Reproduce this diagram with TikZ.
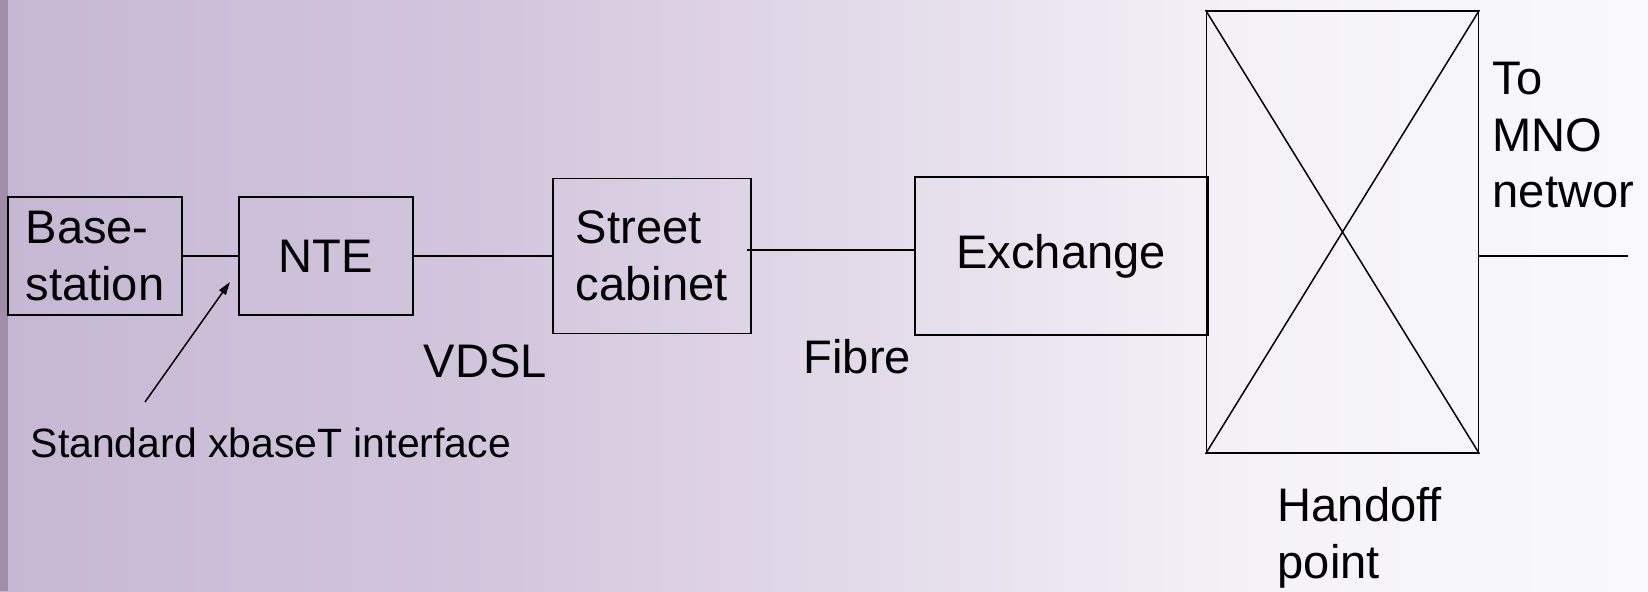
\documentclass[tikz,border=0pt]{standalone}
\usepackage{fontspec}
\setmainfont{Liberation Sans}
\usetikzlibrary{arrows.meta,positioning}

\definecolor{bgA}{RGB}{198,184,211}
\definecolor{bgB}{RGB}{210,198,221}
\definecolor{bgC}{RGB}{228,220,234}
\definecolor{bgD}{RGB}{244,242,247}
\definecolor{bgE}{RGB}{249,249,251}
\definecolor{bgedge}{RGB}{160,142,168}

% left to right fade of the slide background
\pgfdeclarehorizontalshading{slidebg}{100bp}{color(0bp)=(bgA); color(25bp)=(bgA);
  color(40bp)=(bgB); color(52bp)=(bgC); color(63bp)=(bgD); color(75bp)=(bgE);
  color(100bp)=(bgE)}

\begin{document}
\begin{tikzpicture}[x=0.02cm,y=-0.02cm,line width=0.85pt,
  >={Triangle[length=0.26cm,width=0.16cm]},node distance=1.1cm,
  unit node/.style={draw,line width=1.1pt,inner sep=0pt,align=left,
    font=\fontsize{26.8}{32.4}\selectfont},
  label node/.style={inner sep=0pt,align=left,anchor=base west,
    font=\fontsize{26.8}{32.4}\selectfont}]
\shade[shading=slidebg] (0,0) rectangle (1648,591);
\fill[bgedge] (0,0) rectangle (8,591);
\useasboundingbox (0,0) rectangle (1648,591);

\begin{scope}
\clip (0,0) rectangle (1632,591);
% the line from base station to handoff
\node[unit node,minimum width=3.48cm,minimum height=2.36cm] (1) at (95,256) {Base-\\station};
\node[unit node,minimum width=3.48cm,minimum height=2.36cm] (2) [right=of 1] {NTE};
\node[unit node,minimum width=3.96cm,minimum height=3.1cm] (3) [right=2.76cm of 2] {Street\\cabinet};
\node[unit node,minimum width=5.86cm,minimum height=3.16cm] (4) [right=3.24cm of 3] {Exchange};
\node[unit node,minimum width=5.44cm,minimum height=8.84cm] (5) [right=-0.06cm of 4,yshift=0.48cm] {};
\draw (5.north west) -- (5.south east) (5.north east) -- (5.south west);

\coordinate (mno) at (1628,256);
\path
	(1) edge (2)
	(2) edge (3)
	([xshift=-0.1cm,yshift=0.12cm]3.east) edge ([yshift=0.12cm]3.east -| 4.west)
	(5.east |- mno) edge (mno);

% interface pointer
\coordinate (tail) at (145,402);
\draw[->] (tail) -- ([xshift=-0.16cm,yshift=-0.52cm]2.west);

% base anchor sits on the last line
\node[label node] (6) at (423,377) {VDSL};
\node[label node] (7) at (803,373) {Fibre};
\node[label node,font=\fontsize{23.3}{28}\selectfont] (8) at (30,457) {Standard xbaseT interface};
\node[label node] (9) at (1277,578) {Handoff\\point};
\node[label node] (10) at (1492,208) {To\\MNO\\network};
\end{scope}
\end{tikzpicture}
\end{document}
